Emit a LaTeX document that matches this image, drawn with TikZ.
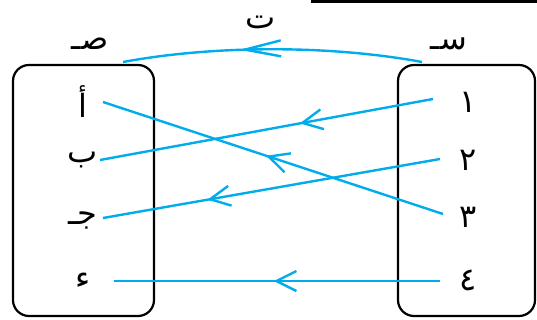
\documentclass[tikz,border=0pt]{standalone}
\usepackage{fontspec}
\newfontfamily\arabicfont[Script=Arabic]{DejaVu Sans}
\TeXXeTstate=1
\usetikzlibrary{arrows.meta,decorations.markings}
\definecolor{mapblue}{RGB}{0,172,236}
\tikzset{
  setbox/.style={draw=black,line width=2.2pt,rounded corners=16pt},
  lbl/.style={inner sep=0pt,font=\arabicfont\fontsize{32}{36}\selectfont},
  mapline/.style={draw=mapblue,line width=2.4pt},
  midarrow/.style={postaction={decorate,decoration={markings,
    mark=at position #1 with {\arrow{Straight Barb[length=20pt,width=20pt,line width=2.4pt]}}}}},
  toparrow/.style={postaction={decorate,decoration={markings,
    mark=at position #1 with {\arrow{Straight Barb[length=36pt,width=16pt,line width=2.4pt]}}}}}
}
\begin{document}
\begin{tikzpicture}[x=1pt,y=-1pt]
\useasboundingbox (0,0) rectangle (537,320);
% heading rule
\fill[black] (311,0) rectangle (537,3.5);
% the two sets
\draw[setbox] (13,65) rectangle (154,316);
\draw[setbox] (398,65) rectangle (535,316);
% set names and mapping name
\node[lbl] (Y) at (90,44) {\beginR صـ\endR};
\node[lbl] (X) at (449,44) {\beginR سـ\endR};
\node[lbl] (T) at (261,22) {\beginR ت\endR};
% elements of the codomain
\node[lbl] (a) at (83,102) {\beginR أ\endR};
\node[lbl] (b) at (83,160) {\beginR ب\endR};
\node[lbl] (c) at (83,220) {\beginR جـ\endR};
\node[lbl] (d) at (83,281) {\beginR ء\endR};
% elements of the domain
\node[lbl] (n1) at (468,102) {\beginR ١\endR};
\node[lbl] (n2) at (468,160) {\beginR ٢\endR};
\node[lbl] (n3) at (468,217) {\beginR ٣\endR};
\node[lbl] (n4) at (468,280) {\beginR ٤\endR};
% line ends
\coordinate (s1) at (433,99);  \coordinate (t1) at (100,160);
\coordinate (s2) at (440,159); \coordinate (t2) at (103,218);
\coordinate (s3) at (443,214); \coordinate (t3) at (103,102);
\coordinate (s4) at (440,281); \coordinate (t4) at (114,281);
\coordinate (sx) at (422,62);  \coordinate (ty) at (123,62);
% mapping
\draw[mapline,midarrow=0.4] (s1) -- (t1);
\draw[mapline,midarrow=0.69] (s2) -- (t2);
\draw[mapline,midarrow=0.52] (s3) -- (t3);
\draw[mapline,midarrow=0.51] (s4) -- (t4);
\draw[mapline,toparrow=0.61] (sx) .. controls (330,45) and (215,45) .. (ty);
\end{tikzpicture}
\end{document}
